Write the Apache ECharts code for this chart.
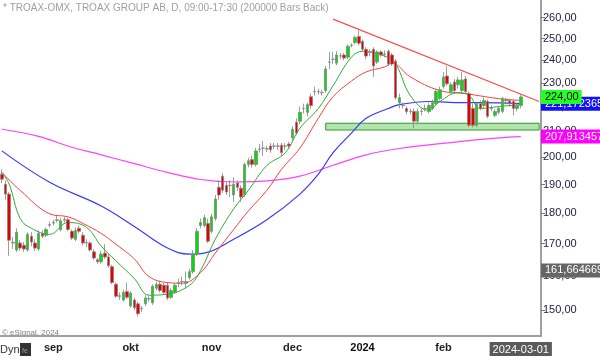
<!DOCTYPE html>
<html><head><meta charset="utf-8">
<script src="https://cdn.jsdelivr.net/npm/echarts@6/dist/echarts.min.js"></script>
<style>html,body{margin:0;padding:0;background:#fff}#c{width:600px;height:356px}</style>
</head><body><div id="c"></div>
<script>
// ---- trading days (categories) ----
const daysAug23 = [14,15,16,17,18,21,22,23,24,25,28,29,30,31];
const daysSep23 = [1,4,5,6,7,8,11,12,13,14,15,18,19,20,21,22,25,26,27,28,29];
const daysOct23 = [2,3,4,5,6,9,10,11,12,13,16,17,18,19,20,23,24,25,26,27,30,31];
const daysNov23 = [1,2,3,6,7,8,9,10,13,14,15,16,17,20,21,22,23,24,27,28,29,30];
const daysDec23 = [1,4,5,6,7,8,11,12,13,14,15,18,19,20,21,22,27,28,29];
const daysJan24 = [2,3,4,5,8,9,10,11,12,15,16,17,18,19,22,23,24,25,26,29,30,31];
const daysFeb24 = [1,2,5,6,7,8,9,12,13,14,15,16,19,20,21,22,23,26,27,28,29];
const daysMar24 = [1,4,5,6,7,8];
const monthNames = ['jan','feb','mar','apr','maj','jun','jul','aug','sep','okt','nov','dec'];

// ---- candles: [open, close, low, high] ----
const candles = [
[193.7,191.9,190.5,195.5],[190.1,186.6,184.6,191.5],[186.6,171.1,166.1,187.3],[170.4,170.2,168.3,172.1],
[168.0,173.7,167.4,175.0],[170.2,168.6,167.7,171.1],[169.5,168.3,167.4,170.5],[168.0,173.0,167.4,173.7],
[172.4,170.5,169.2,173.7],[170.2,168.6,167.7,171.4],[168.3,173.3,167.7,174.3],[173.3,172.4,171.8,174.3],
[172.7,174.6,172.1,175.3],[176.0,176.2,175.3,177.2],[176.9,176.7,175.9,177.8],[177.6,177.8,176.9,179.1],
[174.6,177.5,174.0,178.5],[177.9,177.7,176.9,178.8],[177.8,174.6,174.0,178.5],[174.0,171.8,171.1,174.6],
[171.4,174.3,170.8,175.3],[175.0,174.0,173.3,175.9],[172.7,170.2,169.5,173.7],[170.3,170.2,168.9,171.4],
[170.2,168.0,167.4,170.8],[167.4,165.5,164.9,168.3],[164.9,164.3,163.7,165.5],[164.3,166.7,163.7,167.7],
[167.0,165.8,165.2,169.8],[165.8,163.1,162.5,166.7],[162.8,158.0,157.5,163.4],[157.5,154.0,153.5,158.0],
[154.1,154.0,152.9,155.1],[152.9,155.1,152.4,156.0],[155.4,153.7,153.2,158.0],[151.2,154.9,150.7,155.4],
[152.9,150.7,150.1,153.5],[151.8,149.0,148.2,152.4],[150.5,150.4,149.5,151.2],[151.8,153.5,151.2,154.3],
[153.2,153.3,152.4,154.3],[152.1,156.9,151.5,157.5],[156.3,157.5,155.7,158.3],[157.5,155.7,155.1,158.6],
[157.2,155.1,154.6,158.0],[157.2,153.5,152.9,158.0],[153.7,155.7,153.2,156.3],[155.1,157.2,154.6,157.8],
[157.9,158.0,156.6,159.2],[158.2,158.3,157.2,159.8],[157.8,158.3,156.3,161.3],[159.5,161.3,158.9,162.2],
[161.3,166.7,160.7,168.0],[166.7,174.0,166.1,175.0],[175.9,176.9,175.0,178.2],[175.9,178.5,175.3,179.5],
[176.6,170.8,170.2,178.2],[174.0,178.8,173.3,179.8],[178.2,184.9,177.5,186.3],[189.0,186.3,184.6,191.5],
[193.0,188.0,187.0,194.1],[189.7,187.3,186.3,190.8],[189.6,189.7,185.6,191.5],[186.3,190.1,183.9,192.6],
[190.5,189.0,187.7,191.5],[188.7,185.6,183.9,189.7],[186.3,197.3,185.6,198.0],[197.3,198.7,196.2,199.8],
[199.1,197.3,196.2,200.5],[197.3,202.4,196.5,203.5],[203.0,203.1,201.7,205.0],[203.4,203.5,200.5,206.2],
[203.2,203.1,202.0,204.3],[204.3,202.8,201.7,205.4],[204.2,204.3,203.1,205.4],[204.3,204.2,202.8,205.4],
[204.6,201.7,200.5,205.4],[204.2,204.3,202.8,205.4],[205.0,204.3,203.5,205.8],[207.4,210.8,206.2,212.0],
[213.6,209.3,208.5,215.2],[214.0,217.6,212.8,220.0],[219.1,219.2,217.2,221.2],[217.6,220.8,216.0,221.6],
[224.1,220.4,219.2,225.4],[226.2,226.3,224.6,228.4],[226.3,226.2,225.0,227.5],[225.9,225.8,224.6,227.1],
[226.7,236.1,225.8,237.4],[239.1,239.2,236.1,243.8],[240.4,240.5,238.3,243.8],[238.7,242.4,237.8,244.1],
[241.9,242.0,240.5,243.3],[242.4,241.0,240.0,243.3],[241.4,246.4,240.5,247.3],[246.8,246.9,245.9,247.8],
[248.2,250.5,247.3,251.4],[251.0,247.8,246.8,253.8],[248.7,245.0,244.1,249.6],[245.0,241.9,240.5,245.9],
[243.7,243.8,241.9,245.0],[245.0,237.4,232.6,245.9],[239.2,243.8,238.3,244.5],[243.8,242.4,241.4,244.5],
[242.7,242.8,241.4,244.5],[244.1,238.3,237.4,245.0],[242.4,238.3,237.4,243.3],[239.6,223.7,222.9,240.5],
[221.6,223.7,219.2,225.4],[220.4,220.5,219.2,221.6],[219.2,218.0,216.8,220.0],[218.1,218.0,216.8,219.2],
[218.0,214.0,211.2,219.2],[214.0,218.0,213.2,219.2],[218.0,218.1,216.4,219.2],[219.1,219.2,218.0,220.8],
[218.0,220.4,217.2,221.6],[219.2,221.6,218.4,222.9],[221.2,226.3,220.4,227.5],[223.3,227.1,222.5,228.4],
[228.4,232.6,227.5,234.8],[233.0,229.6,228.8,237.4],[226.3,229.2,225.4,230.4],[230.4,226.7,225.4,231.7],
[229.2,231.3,227.5,232.6],[226.7,231.3,225.8,234.8],[231.7,226.3,225.4,233.0],[225.4,212.4,211.6,226.3],
[219.2,212.4,211.6,221.2],[212.4,221.2,211.6,221.6],[221.2,219.2,218.4,222.5],[220.4,222.5,219.2,223.7],
[222.1,216.0,215.2,222.9],[219.1,219.2,218.0,220.4],[216.4,218.0,215.6,218.8],[217.6,219.2,216.8,220.0],
[218.0,223.3,217.2,224.1],[222.5,222.6,220.8,223.7],[222.5,221.2,220.0,223.3],[222.1,219.2,216.4,222.9],
[219.2,220.4,218.0,221.6],[220.4,224.0,219.2,225.0]
];

// ---- moving averages: [barIndex, value] ----
const maGreen = [[0,194.4],[2,190.1],[5,178.2],[8,175.0],[13,173.0],[18,176.9],[23,175.3],[27,169.2],[31,164.6],[36,159.2],[40,154.3],[45,154.6],[51,157.2],[54,161.6],[58,171.4],[63,181.5],[67,187.9],[72,196.9],[77,201.7],[81,211.2],[86,219.2],[90,228.8],[95,241.4],[98,244.1],[104,241.9],[107,238.3],[111,224.6],[116,218.4],[119,222.1],[124,225.8],[127,224.6],[130,219.2],[135,220.0],[141,220.8]];
const maRed = [[0,194.4],[5,187.9],[13,179.8],[18,178.8],[22,176.6],[27,173.3],[31,169.8],[36,165.2],[40,159.8],[45,158.0],[49,157.8],[54,161.0],[58,167.0],[63,174.6],[67,180.8],[72,187.9],[76,195.5],[81,203.5],[86,215.2],[90,224.1],[95,230.8],[99,234.8],[104,237.0],[106,238.7],[111,232.6],[119,226.7],[126,225.4],[135,223.3],[141,222.5]];
const maBlue = [[0,202.4],[13,190.8],[27,182.5],[36,175.6],[45,168.6],[51,166.7],[55,167.0],[63,171.4],[72,177.8],[81,186.6],[86,193.7],[90,201.7],[95,209.3],[99,215.2],[105,219.2],[108,220.8],[116,222.1],[125,221.6],[130,221.6],[141,221.17]];
const maMagenta = [[0,210.8],[10,208.0],[19,203.8],[27,200.9],[36,197.6],[45,194.4],[54,191.8],[63,190.9],[72,191.3],[81,193.0],[90,197.0],[99,200.9],[108,203.3],[122,205.6],[135,207.4],[141,207.91]];

// ---- annotations ----
const trendLine = [[90,259.3],[146,222.1]];
const zoneFrom = 88, zoneLow = 210.5, zoneHigh = 213.2;
const tagValues = [224.00, 221.172365, 207.913457, 161.664669];
const tagTexts = ['224,00','221,172365','207,913457','161,664669'];
const yTicks = [150,160,170,180,190,200,210,220,230,240,250,260];
const yMin = 142.9, yMax = 268.8;

// build categories
const categories = [];
function addMonth(ym, days){ days.forEach(d => categories.push(ym + '-' + String(d).padStart(2,'0'))); }
addMonth('2023-08', daysAug23); addMonth('2023-09', daysSep23); addMonth('2023-10', daysOct23);
addMonth('2023-11', daysNov23); addMonth('2023-12', daysDec23); addMonth('2024-01', daysJan24);
addMonth('2024-02', daysFeb24); addMonth('2024-03', daysMar24);
const lastBar = candles.length - 1;
const labelIdx = new Set();
for (let i = 1; i < categories.length; i++) {
  if (categories[i].slice(0,7) !== categories[i-1].slice(0,7) && i <= lastBar) labelIdx.add(i);
}
labelIdx.add(lastBar);

function tag(v, txt, bg, fg) {
  return { yAxis: v, label: { show: true, formatter: txt, backgroundColor: bg, color: fg } };
}
const tagLine = { silent: true, symbol: ['none','none'], animation: false,
  lineStyle: { color: 'rgba(255,255,255,0)', width: 1, type: 'solid' },
  label: { show: true, position: 'end', distance: 0, fontSize: 11, padding: [2,3,1,4] } };

const chart = echarts.init(document.getElementById('c'), null, {renderer: 'canvas'});
const FONT = '"Liberation Sans", Arial, sans-serif';
chart.setOption({
  animation: false,
  textStyle: { fontFamily: FONT },
  grid: { left: 0, right: 59, top: 0, bottom: 16 },
  xAxis: {
    type: 'category', data: categories, boundaryGap: true,
    axisLine: { lineStyle: { color: '#a0a0a0', width: 2 } },
    axisTick: { alignWithLabel: true, interval: (i) => labelIdx.has(i), length: 3, lineStyle: { color: '#777' } },
    axisLabel: {
      interval: (i) => labelIdx.has(i), margin: 6, fontSize: 11, fontWeight: 'bold', color: '#222',
      formatter: (v, i) => {
        if (i === lastBar) return '{d|' + v + '}';
        const m = +v.slice(5,7);
        if (m === 1) return '{y|' + v.slice(0,4) + '}';
        return monthNames[m-1];
      },
      rich: {
        d: { backgroundColor: '#5a5a5a', color: '#fff', padding: [2,3,1,3], fontSize: 11, fontWeight: 'normal' },
        y: { fontWeight: 'bold', fontSize: 11, color: '#111' }
      }
    },
    splitLine: { show: false }
  },
  yAxis: {
    type: 'log', logBase: 10, min: yMin, max: yMax, position: 'right',
    axisLine: { show: true, lineStyle: { color: '#a0a0a0', width: 2 } },
    axisTick: { show: true, customValues: yTicks, length: 4, lineStyle: { color: '#777' } },
    axisLabel: { customValues: yTicks, margin: 2, fontSize: 11, color: '#222244',
      formatter: (v) => v.toFixed(2).replace('.', ',') },
    splitLine: { show: false }
  },
  series: [
    { type: 'line', data: maMagenta, smooth: 0.4, symbol: 'none', lineStyle: { color: '#ff40ff', width: 1.2 }, z: 2,
      markLine: Object.assign({}, tagLine, { data: [ tag(tagValues[2], tagTexts[2], '#ff00ff', '#fff') ] }) },
    { type: 'line', data: maBlue, smooth: 0.4, symbol: 'none', lineStyle: { color: '#3838ff', width: 1.2 }, z: 2,
      markLine: Object.assign({}, tagLine, { data: [ tag(tagValues[1], tagTexts[1], '#1010ff', '#fff') ] }) },
    { type: 'line', data: maRed, smooth: 0.4, symbol: 'none', lineStyle: { color: '#ff3c3c', width: 1 }, z: 2 },
    { type: 'line', data: maGreen, smooth: 0.4, symbol: 'none', lineStyle: { color: '#33a833', width: 1 }, z: 2 },
    { type: 'candlestick', data: candles, barWidth: 3, z: 3,
      itemStyle: { color: '#00e000', color0: '#e80000', borderColor: '#858585', borderColor0: '#858585', borderWidth: 0.8 },
      markArea: { silent: true, itemStyle: { color: 'rgba(150,215,140,0.7)', borderColor: '#2f9a2f', borderWidth: 1 },
        data: [[ { coord: [zoneFrom, zoneHigh] }, { coord: [categories.length - 1, zoneLow] } ]] },
      markLine: Object.assign({}, tagLine, { data: [ tag(tagValues[0], tagTexts[0], '#22ff22', '#000'), tag(tagValues[3], tagTexts[3], '#666666', '#fff') ] }) },
    { type: 'line', data: trendLine, symbol: 'none', lineStyle: { color: '#ff4a4a', width: 1.2 }, z: 4 }
  ],
  graphic: [
    { type: 'text', left: 3, top: 3, style: { text: '* TROAX-OMX, TROAX GROUP AB, D, 09:00-17:30 (200000 Bars Back)', fill: '#a0a0a0', font: '10px ' + FONT } },
    { type: 'text', left: 2, top: 329, style: { text: '\u00a9 eSignal, 2024', fill: '#808080', font: '8px ' + FONT } },
    { type: 'text', left: 0, top: 344, style: { text: 'Dyn', fill: '#333', font: '11px ' + FONT } },
    { type: 'rect', shape: { x: 20, y: 343, width: 11, height: 13 }, style: { fill: '#333' } },
    { type: 'text', left: 22, top: 348, style: { text: 'fe', fill: '#999', font: '7px ' + FONT } }
  ]
});
</script>
</body></html>
